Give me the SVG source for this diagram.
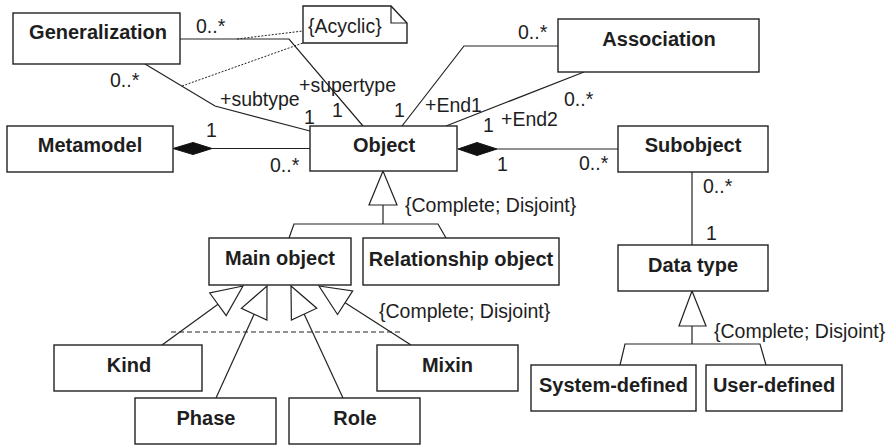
<svg xmlns="http://www.w3.org/2000/svg" width="895" height="446" viewBox="0 0 895 446">
  <style>
    .box { fill: #fff; stroke: #222; stroke-width: 1.4; }
    .name { font-family: "Liberation Sans", Arial, sans-serif; font-size: 20px; font-weight: bold; fill: #1e1e1e; text-anchor: middle; }
    .lbl { font-family: "Liberation Sans", Arial, sans-serif; font-size: 19.5px; fill: #1e1e1e; }
    .ln { fill: none; stroke: #222; stroke-width: 1.2; }
    .dot { fill: none; stroke: #222; stroke-width: 1; stroke-dasharray: 2 1.5; }
    .dash { fill: none; stroke: #222; stroke-width: 1.2; stroke-dasharray: 5 3; }
    .tri { fill: #fff; stroke: #222; stroke-width: 1.2; }
    .dia { fill: #111; stroke: #111; stroke-width: 1; }
  </style>
  <rect width="895" height="446" fill="#fff"/>

  <!-- connectors -->
  <g id="connectors">
    <!-- Generalization / Object -->
    <polyline class="ln" points="180,39 289,39 363,126"/>
    <polyline class="ln" points="145,64 215,106 310,131"/>
    <line class="dot" x1="237" y1="39" x2="303" y2="31"/>
    <line class="dot" x1="182" y1="86" x2="303" y2="43"/>
    <!-- Association / Object -->
    <polyline class="ln" points="402,126 464,46 558,46"/>
    <line class="ln" x1="446" y1="126" x2="584" y2="72"/>
    <!-- compositions -->
    <line class="ln" x1="212" y1="148.5" x2="310" y2="148.5"/>
    <polygon class="dia" points="173,148.5 193,142.5 212,148.5 193,154.5"/>
    <line class="ln" x1="497" y1="149" x2="618" y2="149"/>
    <polygon class="dia" points="458,149 477,142.5 497,149 477,155.5"/>
    <!-- Subobject / Data type -->
    <line class="ln" x1="692" y1="172" x2="692" y2="245"/>
    <!-- Object specialisations -->
    <polyline class="ln" points="289,238 294,224 438,224 446,238"/>
    <line class="ln" x1="383" y1="205" x2="383" y2="224"/>
    <polygon class="tri" points="383,171 369,205 397,205"/>
    <!-- Data type specialisations -->
    <polyline class="ln" points="620,365 625,344 760,344 766,365"/>
    <line class="ln" x1="692" y1="326" x2="692" y2="344"/>
    <polygon class="tri" points="692,291 679,326 706,326"/>
    <!-- Main object specialisations -->
    <line class="ln" x1="162" y1="345" x2="218" y2="304.3"/>
    <polygon class="tri" points="243,286 226.2,315.6 209.7,293"/>
    <line class="ln" x1="216" y1="398" x2="254.1" y2="314.2"/>
    <polygon class="tri" points="267,286 266.9,320 241.4,308.4"/>
    <line class="ln" x1="343" y1="398" x2="304.1" y2="314.1"/>
    <polygon class="tri" points="291,286 316.8,308.2 291.4,320"/>
    <line class="ln" x1="411" y1="345" x2="345.1" y2="302.7"/>
    <polygon class="tri" points="319,286 352.7,290.9 337.5,314.5"/>
    <line class="dash" x1="171" y1="332" x2="402" y2="332"/>

    <!-- multiplicities and roles -->
    <text class="lbl" x="196" y="33">0..*</text>
    <text class="lbl" x="110" y="87">0..*</text>
    <text class="lbl" x="299" y="92">+supertype</text>
    <text class="lbl" x="220" y="106">+subtype</text>
    <text class="lbl" x="304" y="124">1</text>
    <text class="lbl" x="332" y="117">1</text>
    <text class="lbl" x="394" y="117">1</text>
    <text class="lbl" x="425" y="112">+End1</text>
    <text class="lbl" x="518" y="39">0..*</text>
    <text class="lbl" x="564" y="106">0..*</text>
    <text class="lbl" x="483" y="132">1</text>
    <text class="lbl" x="501" y="126">+End2</text>
    <text class="lbl" x="206" y="137">1</text>
    <text class="lbl" x="270" y="172">0..*</text>
    <text class="lbl" x="497" y="171">1</text>
    <text class="lbl" x="579" y="170">0..*</text>
    <text class="lbl" x="703" y="193">0..*</text>
    <text class="lbl" x="706" y="240">1</text>
    <text class="lbl" x="405" y="212">{Complete; Disjoint}</text>
    <text class="lbl" x="379" y="318">{Complete; Disjoint}</text>
    <text class="lbl" x="714" y="338">{Complete; Disjoint}</text>
  </g>

  <!-- note -->
  <g id="note-acyclic">
    <path class="box" d="M303,6 H391 L407,23 V43 H303 Z"/>
    <path class="ln" d="M391,6 V23 H407"/>
    <text class="lbl" x="308" y="33">{Acyclic}</text>
  </g>

  <!-- classes -->
  <g id="generalization"><rect class="box" x="13" y="13" width="167" height="51"/><text class="name" x="98" y="39">Generalization</text></g>
  <g id="metamodel"><rect class="box" x="7" y="126" width="166" height="46"/><text class="name" x="90" y="152">Metamodel</text></g>
  <g id="object"><rect class="box" x="310" y="126" width="147" height="45"/><text class="name" x="384" y="152">Object</text></g>
  <g id="association"><rect class="box" x="558" y="19" width="201" height="53"/><text class="name" x="659" y="46">Association</text></g>
  <g id="subobject"><rect class="box" x="618" y="126" width="150" height="46"/><text class="name" x="693" y="152">Subobject</text></g>
  <g id="data-type"><rect class="box" x="618" y="245" width="150" height="46"/><text class="name" x="693" y="272">Data type</text></g>
  <g id="system-defined"><rect class="box" x="531" y="365" width="165" height="46"/><text class="name" x="613.5" y="392">System-defined</text></g>
  <g id="user-defined"><rect class="box" x="706" y="365" width="136" height="46"/><text class="name" x="774" y="392">User-defined</text></g>
  <g id="main-object"><rect class="box" x="209" y="238" width="142" height="47"/><text class="name" x="280" y="265">Main object</text></g>
  <g id="relationship-object"><rect class="box" x="363" y="238" width="196" height="47"/><text class="name" x="461" y="265.5">Relationship object</text></g>
  <g id="kind"><rect class="box" x="54" y="345" width="148" height="46"/><text class="name" x="129" y="372">Kind</text></g>
  <g id="mixin"><rect class="box" x="377" y="345" width="141" height="46"/><text class="name" x="447.5" y="372">Mixin</text></g>
  <g id="phase"><rect class="box" x="135" y="398" width="141" height="46"/><text class="name" x="206" y="425">Phase</text></g>
  <g id="role"><rect class="box" x="289" y="398" width="131" height="46"/><text class="name" x="355" y="425">Role</text></g>
</svg>
